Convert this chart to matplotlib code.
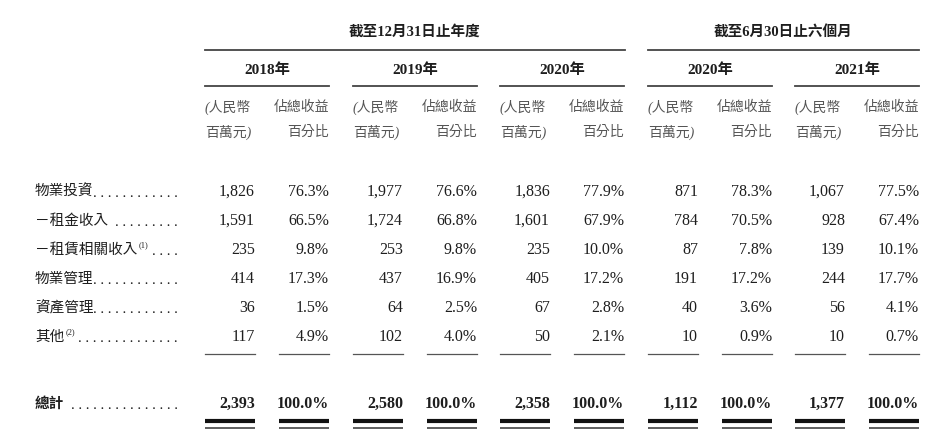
import matplotlib
matplotlib.use("Agg")
import matplotlib.pyplot as plt

# row labels and values (RMB million / % of total revenue)
labels = ["物業投資", "－租金收入", "－租賃相關收入", "物業管理", "資產管理", "其他"]
label_notes = ["", "", "(1)", "", "", "(2)"]
leader_dots = [12, 9, 4, 12, 12, 14]
periods = ["2018年", "2019年", "2020年", "2020年", "2021年"]
amounts = [
    ["1,826", "1,591", "235", "414", "36", "117"],
    ["1,977", "1,724", "253", "437", "64", "102"],
    ["1,836", "1,601", "235", "405", "67", "50"],
    ["871", "784", "87", "191", "40", "10"],
    ["1,067", "928", "139", "244", "56", "10"],
]
shares = [
    ["76.3%", "66.5%", "9.8%", "17.3%", "1.5%", "4.9%"],
    ["76.6%", "66.8%", "9.8%", "16.9%", "2.5%", "4.0%"],
    ["77.9%", "67.9%", "10.0%", "17.2%", "2.8%", "2.1%"],
    ["78.3%", "70.5%", "7.8%", "17.2%", "3.6%", "0.9%"],
    ["77.5%", "67.4%", "10.1%", "17.7%", "4.1%", "0.7%"],
]
total_label = "總計"
total_amounts = ["2,393", "2,580", "2,358", "1,112", "1,377"]
total_shares = ["100.0%", "100.0%", "100.0%", "100.0%", "100.0%"]
group_titles = ["截至12月31日止年度", "截至6月30日止六個月"]

FAM = ["Liberation Serif", "Noto Sans CJK TC", "DejaVu Sans"]
INK = "#1e1e1e"
SUB = "#555555"

fig = plt.figure(figsize=(9.31, 4.44), dpi=100)
ax = fig.add_axes([0, 0, 1, 1])
ax.set_xlim(0, 931)
ax.set_ylim(444, 0)
ax.axis("off")

# column geometry (left edge of each period block, block width, sub column width)
block_left = [205, 353, 500, 648, 795]
block_w = 124
col_w = 50
row_y = [192, 221, 250, 279, 308, 337]
total_y = 404
label_x = 35
dots_right = 178

# group titles + lines
ax.text(415, 32, group_titles[0], ha="center", va="center", fontsize=10.5,
        fontweight="bold", family=FAM, color=INK)
ax.plot([205, 625], [50, 50], color="#444444", lw=1.3)
ax.text(783, 32, group_titles[1], ha="center", va="center", fontsize=10.5,
        fontweight="bold", family=FAM, color=INK)
ax.plot([648, 919], [50, 50], color="#444444", lw=1.3)

fig.canvas.draw()
renderer = fig.canvas.get_renderer()

for i, left in enumerate(block_left):
    right = left + block_w
    ax.text((left + right) / 2, 70, periods[i], ha="center", va="center",
            fontsize=11, fontweight="bold", family=FAM, color=INK)
    ax.plot([left, right], [86, 86], color="#444444", lw=1.3)
    ax.text(left, 107, "(人民幣", ha="left", va="center", fontsize=10,
            family=FAM, color=SUB, style="italic")
    ax.text(left, 132, "百萬元)", ha="left", va="center", fontsize=10,
            family=FAM, color=SUB, style="italic")
    ax.text(right, 107, "佔總收益", ha="right", va="center", fontsize=10,
            family=FAM, color=SUB, style="italic")
    ax.text(right, 132, "百分比", ha="right", va="center", fontsize=10,
            family=FAM, color=SUB, style="italic")

    amt_r = left + col_w
    pct_l = right - col_w
    for j, y in enumerate(row_y):
        ax.text(amt_r, y, amounts[i][j], ha="right", va="center", fontsize=11.5,
                family=FAM, color=INK)
        ax.text(right, y, shares[i][j], ha="right", va="center", fontsize=11.5,
                family=FAM, color=INK)
    # subtotal rule
    ax.plot([left, amt_r], [354, 354], color="#555555", lw=0.9)
    ax.plot([pct_l, right], [354, 354], color="#555555", lw=0.9)
    # totals
    ax.text(amt_r, total_y, total_amounts[i], ha="right", va="center",
            fontsize=11.5, fontweight="bold", family=FAM, color=INK)
    ax.text(right, total_y, total_shares[i], ha="right", va="center",
            fontsize=11.5, fontweight="bold", family=FAM, color=INK)
    for x0, x1 in [(left, amt_r), (pct_l, right)]:
        ax.plot([x0, x1], [421, 421], color="#111111", lw=3.0, solid_capstyle="butt")
        ax.plot([x0, x1], [428, 428], color="#333333", lw=1.1, solid_capstyle="butt")

# row labels with leaders
inv = ax.transData.inverted()
for j, y in enumerate(row_y):
    t = ax.text(label_x, y, labels[j], ha="left", va="center", fontsize=10.5,
                family=FAM, color=INK)
    if label_notes[j]:
        bb = t.get_window_extent(renderer)
        xr = inv.transform((bb.x1, 0))[0]
        ax.text(xr + 1, y - 5, label_notes[j], ha="left", va="center",
                fontsize=6, family=FAM, color=INK)
    ax.text(dots_right, y + 1, " ".join("." * leader_dots[j]), ha="right",
            va="center", fontsize=10.5, family=FAM, color=INK)

ax.text(label_x, total_y, total_label, ha="left", va="center", fontsize=10.5,
        fontweight="bold", family=FAM, color=INK)
ax.text(dots_right, total_y + 1, " ".join("." * 15), ha="right", va="center",
        fontsize=10.5, family=FAM, color=INK)

fig.savefig("out.png", dpi=100, facecolor="white")
